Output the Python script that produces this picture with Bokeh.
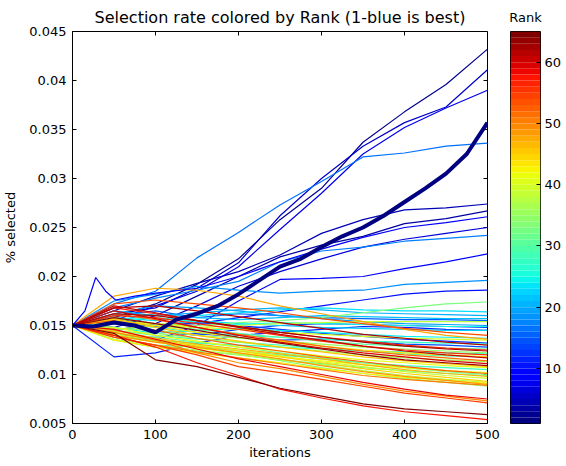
import numpy as np
from bokeh.plotting import figure
from bokeh.layouts import row
from bokeh.models import FixedTicker, Range1d
from bokeh.embed import file_html
from bokeh.resources import INLINE

# ---------------- data ----------------
iters = [0, 50, 100, 150, 200, 250, 300, 350, 400, 450, 500]
iters_fine = [0, 25, 50, 75, 100, 125, 150, 175, 200, 225, 250, 275, 300, 325, 350, 375, 400, 425, 450, 475, 500]

# rank 1 (thick navy line)
best_rank = 1
best_rate = [0.0150, 0.0149, 0.0153, 0.0150, 0.0143, 0.0156, 0.0162, 0.0170, 0.0182, 0.0196, 0.0210,
             0.0218, 0.0230, 0.0241, 0.0250, 0.0262, 0.0276, 0.0290, 0.0305, 0.0325, 0.0357]

# rank 9 (early spike)
spike_rank = 9
spike_iters = [0, 15, 28, 40, 52, 75, 100, 150, 200, 250, 300, 350, 400, 450, 500]
spike_rate = [0.0150, 0.0165, 0.0199, 0.0185, 0.0176, 0.0180, 0.0183, 0.0188, 0.0200, 0.0215,
              0.0228, 0.0240, 0.0250, 0.0255, 0.0261]

ranks = [2, 3, 4, 5, 6, 7, 8, 10, 11, 12, 13, 14, 15, 16, 17, 18, 19, 20, 21, 22, 23, 24, 25, 26,
         27, 28, 29, 30, 31, 32, 33, 34, 35, 36, 37, 38, 39, 40, 41, 42, 43, 44, 45, 46, 47, 48,
         49, 50, 51, 52, 53, 54, 55, 56, 57, 58, 59, 60, 61, 62, 63, 64, 65]

rates = [
    [.0150, .0158, .0172, .0192, .0218, .0258, .0290, .0337, .0368, .0396, .0432],  # 2
    [.0150, .0148, .0160, .0180, .0200, .0220, .0232, .0241, .0254, .0259, .0267],  # 3
    [.0150, .0165, .0180, .0193, .0205, .0222, .0244, .0258, .0268, .0270, .0274],  # 4
    [.0150, .0162, .0168, .0188, .0214, .0262, .0300, .0333, .0357, .0373, .0411],  # 5
    [.0150, .0145, .0152, .0170, .0190, .0205, .0218, .0230, .0238, .0244, .0250],  # 6
    [.0150, .0155, .0170, .0185, .0210, .0248, .0285, .0325, .0352, .0372, .0390],  # 7
    [.0150, .0140, .0135, .0150, .0175, .0197, .0198, .0200, .0208, .0215, .0223],  # 8
    [.0150, .0155, .0150, .0152, .0158, .0164, .0170, .0176, .0182, .0185, .0186],  # 10
    [.0150, .0118, .0122, .0132, .0140, .0143, .0146, .0149, .0148, .0146, .0145],  # 11
    [.0150, .0158, .0149, .0153, .0150, .0146, .0142, .0139, .0136, .0134, .0132],  # 12
    [.0150, .0152, .0145, .0140, .0146, .0150, .0152, .0151, .0150, .0149, .0148],  # 13
    [.0150, .0140, .0138, .0142, .0138, .0135, .0136, .0134, .0131, .0130, .0128],  # 14
    [.0150, .0160, .0165, .0158, .0162, .0160, .0158, .0157, .0156, .0156, .0155],  # 15
    [.0150, .0172, .0185, .0219, .0245, .0273, .0297, .0322, .0326, .0333, .0336],  # 16
    [.0150, .0168, .0178, .0186, .0195, .0215, .0226, .0230, .0236, .0239, .0242],  # 17
    [.0150, .0175, .0182, .0190, .0186, .0183, .0185, .0186, .0192, .0194, .0196],  # 18
    [.0150, .0162, .0170, .0168, .0165, .0160, .0157, .0154, .0152, .0151, .0150],  # 19
    [.0150, .0165, .0160, .0163, .0166, .0168, .0166, .0163, .0162, .0161, .0160],  # 20
    [.0150, .0155, .0162, .0158, .0156, .0158, .0160, .0159, .0158, .0157, .0157],  # 21
    [.0150, .0145, .0150, .0155, .0152, .0150, .0148, .0147, .0146, .0145, .0145],  # 22
    [.0150, .0158, .0155, .0160, .0163, .0166, .0168, .0166, .0165, .0165, .0164],  # 23
    [.0150, .0148, .0142, .0145, .0147, .0145, .0143, .0141, .0139, .0138, .0137],  # 24
    [.0150, .0155, .0158, .0154, .0151, .0153, .0152, .0151, .0150, .0149, .0149],  # 25
    [.0150, .0140, .0135, .0132, .0130, .0128, .0126, .0124, .0123, .0122, .0121],  # 26
    [.0150, .0152, .0148, .0143, .0140, .0138, .0136, .0134, .0133, .0132, .0131],  # 27
    [.0150, .0138, .0130, .0128, .0124, .0120, .0116, .0112, .0109, .0107, .0105],  # 28
    [.0150, .0145, .0140, .0136, .0133, .0130, .0127, .0124, .0121, .0119, .0118],  # 29
    [.0150, .0154, .0150, .0146, .0142, .0138, .0134, .0131, .0129, .0127, .0126],  # 30
    [.0150, .0135, .0128, .0124, .0120, .0115, .0111, .0107, .0104, .0101, .0099],  # 31
    [.0150, .0142, .0138, .0133, .0128, .0122, .0117, .0112, .0107, .0103, .0100],  # 32
    [.0150, .0158, .0152, .0150, .0153, .0155, .0158, .0163, .0168, .0172, .0174],  # 33
    [.0150, .0138, .0134, .0128, .0121, .0114, .0107, .0101, .0096, .0092, .0088],  # 34
    [.0150, .0147, .0145, .0140, .0137, .0134, .0131, .0128, .0126, .0124, .0122],  # 35
    [.0150, .0144, .0142, .0137, .0133, .0128, .0124, .0120, .0117, .0115, .0113],  # 36
    [.0150, .0136, .0130, .0125, .0120, .0115, .0110, .0104, .0099, .0095, .0092],  # 37
    [.0150, .0146, .0150, .0148, .0150, .0152, .0153, .0154, .0154, .0154, .0154],  # 38
    [.0150, .0141, .0135, .0130, .0125, .0119, .0113, .0108, .0103, .0099, .0096],  # 39
    [.0150, .0154, .0152, .0148, .0146, .0143, .0141, .0139, .0137, .0136, .0135],  # 40
    [.0150, .0148, .0140, .0134, .0128, .0124, .0119, .0115, .0112, .0109, .0107],  # 41
    [.0150, .0140, .0133, .0127, .0122, .0118, .0114, .0110, .0107, .0104, .0102],  # 42
    [.0150, .0135, .0128, .0122, .0117, .0112, .0106, .0101, .0097, .0094, .0091],  # 43
    [.0150, .0156, .0150, .0143, .0138, .0134, .0129, .0125, .0122, .0120, .0118],  # 44
    [.0150, .0143, .0136, .0129, .0124, .0118, .0112, .0106, .0101, .0097, .0093],  # 45
    [.0150, .0157, .0148, .0140, .0134, .0128, .0123, .0118, .0114, .0111, .0108],  # 46
    [.0150, .0145, .0137, .0131, .0126, .0121, .0116, .0110, .0105, .0101, .0098],  # 47
    [.0150, .0180, .0188, .0186, .0180, .0170, .0162, .0154, .0146, .0140, .0136],  # 48
    [.0150, .0140, .0133, .0128, .0122, .0116, .0109, .0103, .0098, .0094, .0090],  # 49
    [.0150, .0143, .0135, .0122, .0112, .0106, .0098, .0090, .0083, .0078, .0073],  # 50
    [.0150, .0138, .0130, .0123, .0117, .0111, .0105, .0099, .0095, .0092, .0089],  # 51
    [.0150, .0162, .0156, .0148, .0141, .0135, .0129, .0124, .0120, .0117, .0114],  # 52
    [.0150, .0155, .0145, .0137, .0130, .0124, .0118, .0113, .0108, .0104, .0101],  # 53
    [.0150, .0172, .0176, .0172, .0168, .0163, .0157, .0152, .0147, .0143, .0140],  # 54
    [.0150, .0138, .0130, .0120, .0108, .0102, .0095, .0088, .0081, .0076, .0071],  # 55
    [.0150, .0160, .0158, .0152, .0146, .0140, .0134, .0129, .0125, .0122, .0120],  # 56
    [.0150, .0168, .0162, .0155, .0149, .0143, .0138, .0134, .0130, .0127, .0125],  # 57
    [.0150, .0140, .0128, .0112, .0099, .0085, .0076, .0068, .0062, .0058, .0054],  # 58
    [.0150, .0146, .0136, .0126, .0116, .0108, .0100, .0092, .0085, .0079, .0075],  # 59
    [.0150, .0165, .0157, .0148, .0140, .0133, .0127, .0122, .0118, .0114, .0111],  # 60
    [.0150, .0170, .0163, .0155, .0148, .0141, .0135, .0129, .0124, .0120, .0117],  # 61
    [.0150, .0168, .0170, .0165, .0159, .0153, .0147, .0141, .0137, .0133, .0130],  # 62
    [.0150, .0162, .0160, .0155, .0149, .0143, .0138, .0133, .0129, .0126, .0124],  # 63
    [.0150, .0158, .0152, .0145, .0138, .0132, .0126, .0120, .0115, .0112, .0109],  # 64
    [.0150, .0142, .0115, .0108, .0097, .0086, .0078, .0070, .0065, .0062, .0059],  # 65
]

x_min, x_max = 0, 500
y_min, y_max = 0.005, 0.045
x_ticks = [0, 100, 200, 300, 400, 500]
y_ticks = [0.005, 0.01, 0.015, 0.02, 0.025, 0.03, 0.035, 0.04, 0.045]
y_tick_labels = ["0.005", "0.01", "0.015", "0.02", "0.025", "0.03", "0.035", "0.04", "0.045"]
cbar_ticks = [10, 20, 30, 40, 50, 60]
rank_min, rank_max = 1, 65
n_colors = 64


# ---------------- jet colormap ----------------
def jet(x):
    r = np.interp(x, [0, 0.35, 0.66, 0.89, 1], [0, 0, 1, 1, 0.5])
    g = np.interp(x, [0, 0.125, 0.375, 0.64, 0.91, 1], [0, 0, 1, 1, 0, 0])
    b = np.interp(x, [0, 0.11, 0.34, 0.65, 1], [0.5, 1, 1, 0, 0])
    return "#%02x%02x%02x" % (int(round(r * 255)), int(round(g * 255)), int(round(b * 255)))


def rank_color(rk):
    return jet((rk - rank_min) / (rank_max - rank_min))


palette = [jet(i / (n_colors - 1.0)) for i in range(n_colors)]

FONT = "DejaVu Sans"
FW, FH = 415, 392           # frame size (px)
TOP, BOTTOM = 25, 38        # borders


def style_axis(ax):
    ax.major_tick_in = 4
    ax.major_tick_out = 0
    ax.minor_tick_line_color = None
    ax.axis_line_color = "black"
    ax.major_tick_line_color = "black"
    ax.major_label_text_font = FONT
    ax.major_label_text_font_size = "13px"
    ax.major_label_text_color = "black"
    ax.axis_label_text_font = FONT
    ax.axis_label_text_font_size = "13px"
    ax.axis_label_text_font_style = "normal"
    ax.axis_label_text_color = "black"


p = figure(frame_width=FW, frame_height=FH, output_backend="svg", toolbar_location=None,
           x_range=Range1d(x_min, x_max), y_range=Range1d(y_min, y_max),
           min_border_left=69, min_border_right=13, min_border_top=TOP, min_border_bottom=BOTTOM,
           title="Selection rate colored by Rank (1-blue is best)")
p.title.text_font = FONT
p.title.text_font_size = "16px"
p.title.text_font_style = "normal"
p.title.align = "center"
p.title.text_color = "black"
p.title.offset = 2
p.grid.visible = False
p.outline_line_color = "black"
p.outline_line_alpha = 1

style_axis(p.xaxis[0])
style_axis(p.yaxis[0])
p.xaxis[0].ticker = FixedTicker(ticks=x_ticks)
p.xaxis[0].axis_label = "iterations"
p.xaxis[0].major_label_standoff = 6
p.xaxis[0].axis_label_standoff = 3
p.yaxis[0].ticker = FixedTicker(ticks=y_ticks)
p.yaxis[0].major_label_overrides = {t: s for t, s in zip(y_ticks, y_tick_labels)}
p.yaxis[0].axis_label = "% selected"
p.yaxis[0].major_label_standoff = 6
p.yaxis[0].axis_label_standoff = 8

# inward ticks on the top and right edges (matplotlib box style)
tick_dx = (x_max - x_min) * 4.0 / FW
tick_dy = (y_max - y_min) * 4.0 / FH
p.segment(x0=x_ticks, y0=[y_max] * len(x_ticks), x1=x_ticks, y1=[y_max - tick_dy] * len(x_ticks),
          line_color="black", line_width=1)
p.segment(x0=[x_max] * len(y_ticks), y0=y_ticks, x1=[x_max - tick_dx] * len(y_ticks), y1=y_ticks,
          line_color="black", line_width=1)

# thin lines
for rk, vals in zip(ranks, rates):
    p.line(iters, vals, line_color=rank_color(rk), line_width=1.2)
p.line(spike_iters, spike_rate, line_color=rank_color(spike_rank), line_width=1.2)
# thick best line
p.line(iters_fine, best_rate, line_color=rank_color(best_rank), line_width=4)

# ---------------- colour bar as its own small figure ----------------
cb = figure(frame_width=30, frame_height=FH, output_backend="svg", toolbar_location=None,
            x_range=Range1d(0, 1), y_range=Range1d(rank_min, rank_max),
            x_axis_location=None, y_axis_location="right",
            min_border_left=10, min_border_right=0, min_border_top=TOP, min_border_bottom=BOTTOM,
            title="Rank")
cb.title.text_font = FONT
cb.title.text_font_size = "13px"
cb.title.text_font_style = "normal"
cb.title.align = "center"
cb.title.text_color = "black"
cb.title.standoff = 14
cb.grid.visible = False
cb.outline_line_color = "black"
cb.outline_line_alpha = 1
style_axis(cb.yaxis[0])
cb.yaxis[0].ticker = FixedTicker(ticks=cbar_ticks)
cb.yaxis[0].axis_line_color = None
cb.yaxis[0].major_label_standoff = 4

edges = np.linspace(rank_min, rank_max, n_colors + 1)
cb.quad(left=0, right=1, bottom=edges[:-1], top=edges[1:], fill_color=palette, line_color=None)

layout = row(p, cb, spacing=0)
open("out.html", "w").write(file_html(layout, INLINE))
